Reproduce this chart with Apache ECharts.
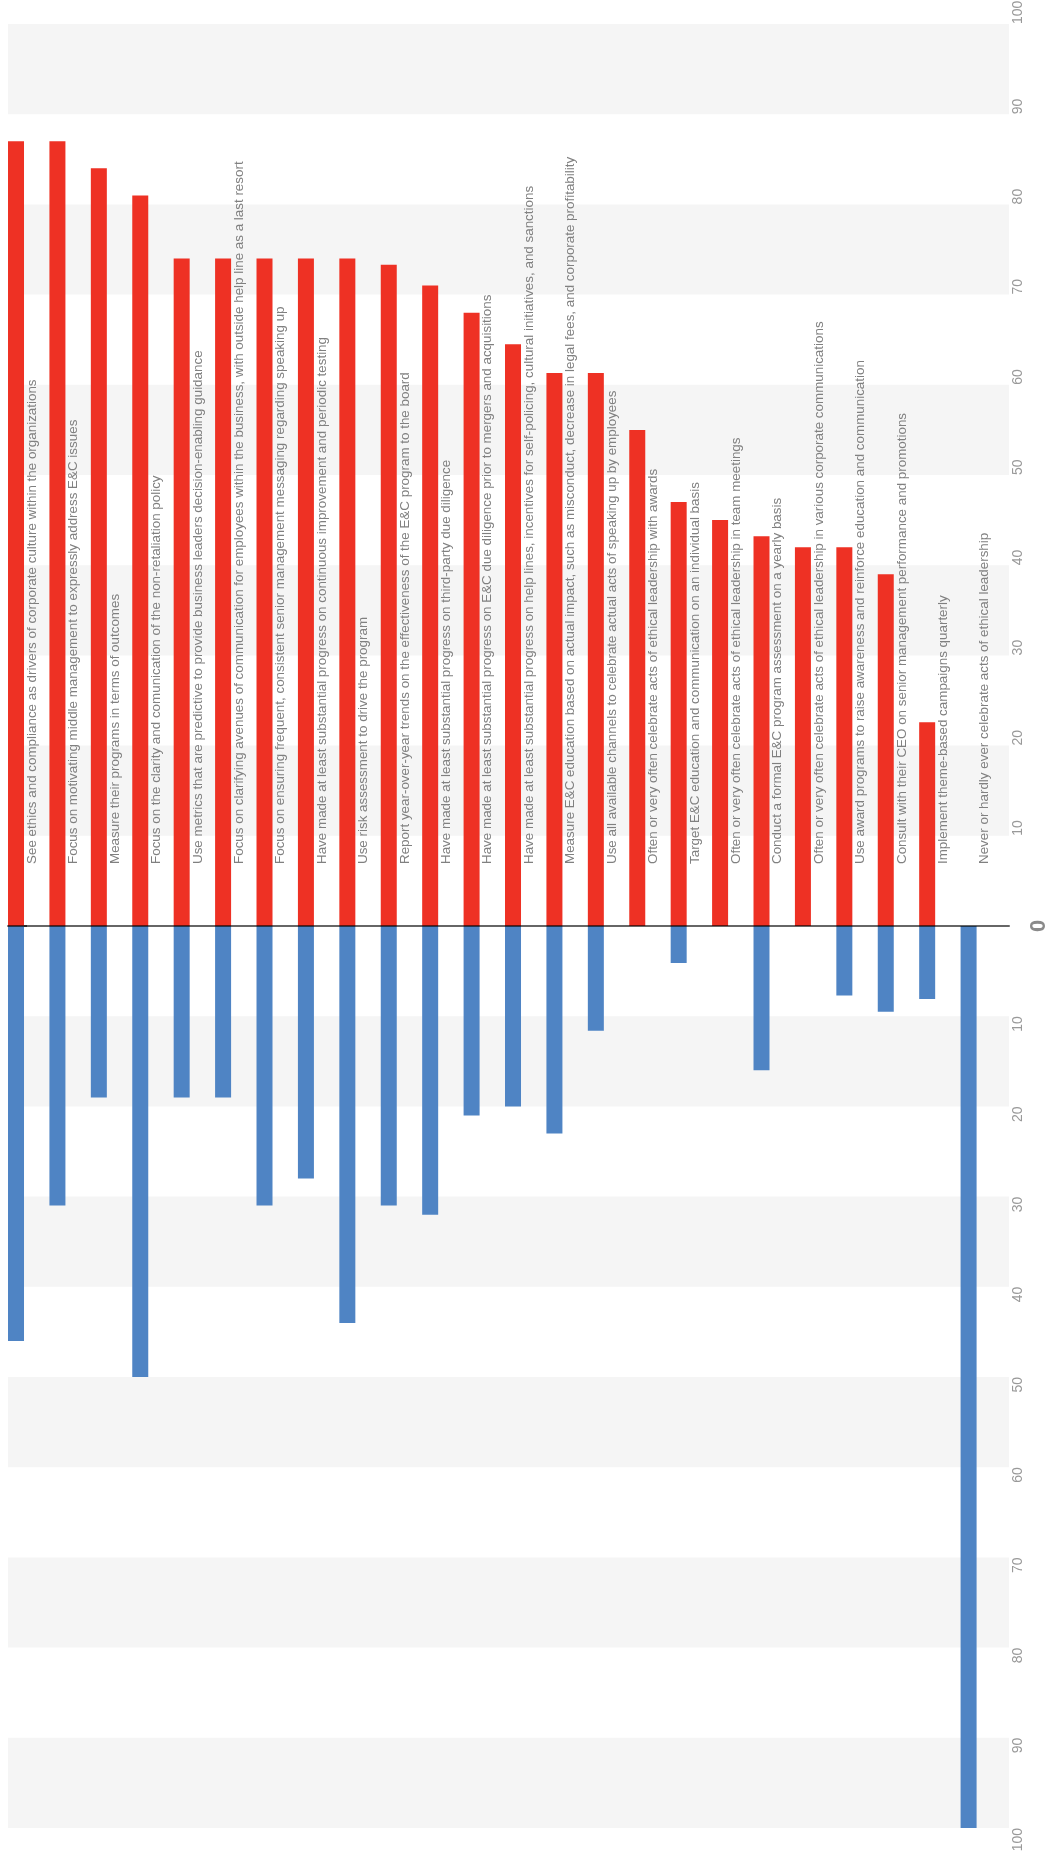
<!DOCTYPE html>
<html><head><meta charset="utf-8">
<script src="https://cdn.jsdelivr.net/npm/echarts@6/dist/echarts.min.js"></script>
<style>html,body{margin:0;padding:0;background:#fff}#c{width:1048px;height:1856px}</style>
</head><body><div id="c"></div>
<script>
const categories = [
  "See ethics and compliance as drivers of corporate culture within the organizations",
  "Focus on motivating middle management to expressly address E&C issues",
  "Measure their programs in terms of outcomes",
  "Focus on the clarity and comunication of the non-retaliation policy",
  "Use metrics that are predictive to provide business leaders decision-enabling guidance",
  "Focus on clarifying avenues of communication for employees within the business, with outside help line as a last resort",
  "Focus on ensuring frequent, consistent senior management messaging regarding speaking up",
  "Have made at least substantial progress on continuous improvement and periodic testing",
  "Use risk assessment to drive the program",
  "Report year-over-year trends on the effectiveness of the E&C program to the board",
  "Have made at least substantial progress on third-party due diligence",
  "Have made at least substantial progress on E&C due diligence prior to mergers and acquisitions",
  "Have made at least substantial progress on help lines, incentives for self-policing, cultural initiatives, and sanctions",
  "Measure E&C education based on actual impact, such as misconduct, decrease in legal fees, and corporate profitability",
  "Use all available channels to celebrate actual acts of speaking up by employees",
  "Often or very often celebrate acts of ethical leadership with awards",
  "Target E&C education and communication on an individual basis",
  "Often or very often celebrate acts of ethical leadership in team meetings",
  "Conduct a formal E&C program assessment on a yearly basis",
  "Often or very often celebrate acts of ethical leadership in various corporate communications",
  "Use award programs to raise awareness and reinforce education and communication",
  "Consult with their CEO on senior management performance and promotions",
  "Implement theme-based campaigns quarterly",
  "Never or hardly ever celebrate acts of ethical leadership"
];
const redValues  = [87, 87, 84, 81, 74, 74, 74, 74, 74, 73.3, 71, 68, 64.5, 61.3, 61.3, 55, 47, 45, 43.2, 42, 42, 39, 22.6, 0];
const blueValues = [46, 31, 19, 50, 19, 19, 31, 28, 44, 31, 32, 21, 20, 23, 11.6, 0, 4.1, 0, 16, 0, 7.7, 9.5, 8.1, 100];
const valueTicks = [-100, -90, -80, -70, -60, -50, -40, -30, -20, -10, 0, 10, 20, 30, 40, 50, 60, 70, 80, 90, 100];
const shadedBands = [[10, 20], [30, 40], [50, 60], [70, 80], [90, 100]];

const FONT = '"Liberation Sans", Arial, sans-serif';
const ZERO_LINE = 'rgba(0,0,0,0.6)';
const bandData = [];
shadedBands.forEach(function (b) {
  bandData.push([{ yAxis: b[0] }, { yAxis: b[1] }]);
  bandData.push([{ yAxis: -b[1] }, { yAxis: -b[0] }]);
});

const chart = echarts.init(document.getElementById('c'), null, { renderer: 'canvas' });
chart.setOption({
  animation: false,
  backgroundColor: '#ffffff',
  grid: [
    { left: 8, right: 39, top: 24, bottom: 28, containLabel: false, outerBoundsMode: 'none' },
    { left: 8, width: 994, top: 24, bottom: 28, containLabel: false, outerBoundsMode: 'none' }
  ],
  xAxis: [
    {
      gridIndex: 0, type: 'value', min: 0, max: 1, z: 5,
      axisLine: { show: true, onZero: true, lineStyle: { color: ZERO_LINE, width: 2 } },
      axisTick: { show: false }, axisLabel: { show: false }, splitLine: { show: false }
    },
    {
      gridIndex: 1, type: 'category', data: categories,
      axisLine: { show: false }, axisTick: { show: false }, axisLabel: { show: false }
    }
  ],
  yAxis: [
    {
      gridIndex: 0, type: 'value', position: 'right', min: -100, max: 100, interval: 10,
      axisLine: { show: false }, splitLine: { show: false }, splitArea: { show: false },
      axisTick: { show: true, customValues: [0], length: 19, lineStyle: { color: ZERO_LINE, width: 2 } },
      axisLabel: {
        customValues: valueTicks, rotate: 90, margin: 2,
        formatter: function (v) {
          if (v === 0) return '{z|0}';
          const s = String(Math.abs(v));
          return v > 0 ? '{h|' + s + '}{v|' + s + '}' : '{v|' + s + '}{h|' + s + '}';
        },
        rich: {
          v: { fontSize: 14, lineHeight: 14, color: '#999999', fontFamily: FONT },
          h: { fontSize: 14, lineHeight: 14, color: 'rgba(0,0,0,0)', fontFamily: FONT },
          z: { fontSize: 22, lineHeight: 56, fontWeight: 'bold', color: '#8a8a8a', fontFamily: FONT }
        }
      }
    },
    { gridIndex: 1, type: 'value', min: -100, max: 100, show: false }
  ],
  series: [
    {
      type: 'line', xAxisIndex: 0, yAxisIndex: 0, data: [[0, 0]], showSymbol: false,
      silent: true, z: 1, lineStyle: { opacity: 0 },
      markArea: { silent: true, itemStyle: { color: '#f5f5f5' }, data: bandData }
    },
    {
      type: 'bar', name: 'agree', xAxisIndex: 1, yAxisIndex: 1, stack: 'a',
      barWidth: 16, barGap: 0, data: redValues, itemStyle: { color: '#EE3124' }, z: 2
    },
    {
      type: 'bar', name: 'disagree', xAxisIndex: 1, yAxisIndex: 1, stack: 'a',
      barWidth: 16, barGap: 0, data: blueValues.map(function (v) { return -v; }),
      itemStyle: { color: '#4F84C4' }, z: 2
    },
    {
      type: 'bar', name: 'spacer', xAxisIndex: 1, yAxisIndex: 1, silent: true,
      barWidth: 25.4, barGap: 0, data: categories.map(function () { return 0; }),
      itemStyle: { color: 'rgba(0,0,0,0)' }
    },
    {
      type: 'custom', name: 'labels', xAxisIndex: 1, yAxisIndex: 1, silent: true, z: 3,
      data: categories.map(function (c, i) { return [i, 0]; }),
      encode: { x: 0, y: 1 },
      renderItem: function (params, api) {
        const p = api.coord([api.value(0), 0]);
        return {
          type: 'text',
          x: p[0] + 3.5,
          y: p[1] - 62,
          rotation: Math.PI / 2,
          style: {
            text: categories[params.dataIndex],
            fill: '#808080',
            fontSize: 13.4,
            fontFamily: FONT,
            align: 'left',
            verticalAlign: 'middle'
          }
        };
      }
    }
  ]
});
</script>
</body></html>
